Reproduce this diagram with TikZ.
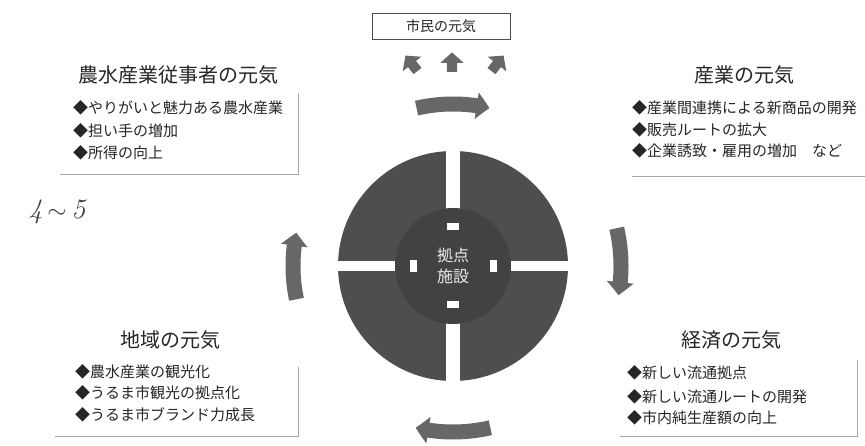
\documentclass[tikz,border=0pt]{standalone}
\usepackage{fontspec}
\newfontfamily\jp{Noto Sans CJK JP}
\usetikzlibrary{arrows.meta,bending}
\definecolor{circdark}{HTML}{4E4E4E}
\definecolor{innerdark}{HTML}{424242}
\definecolor{arrowgray}{HTML}{676767}
\definecolor{txt}{HTML}{262626}
\definecolor{framegray}{HTML}{A8A8A8}
\begin{document}
\begin{tikzpicture}[x=1pt,y=1pt,
  title/.style={font=\jp\fontsize{20}{24}\selectfont, text=txt, inner sep=0pt},
  item/.style={font=\jp\fontsize{15}{18}\selectfont, text=txt, anchor=west, inner sep=0pt},
  frameline/.style={draw=framegray, line width=1pt},
  cyc/.style={draw=arrowgray, line width=15pt, -{Triangle[width=26pt,length=13pt,bend]}},
  uparrow/.style={fill=arrowgray},
]
\useasboundingbox (0,0) rectangle (865,446);
\fill[white] (0,0) rectangle (865,446);

% citizens box
\node[draw=black!70, line width=0.8pt, minimum width=138pt, minimum height=26pt,
      font=\jp\fontsize{14}{16}\selectfont, text=txt] (citizen) at (441,420) {市民の元気};

% three small arrows
\foreach \px/\py/\ang in {412/382/38, 452/383/0, 497/382/-38}{
  \begin{scope}[shift={(\px,\py)}, rotate=\ang, scale=1.12]
    \fill[uparrow] (-4.5,-8) -- (-4.5,0) -- (-10.5,0) -- (0,9.5) -- (10.5,0) -- (4.5,0) -- (4.5,-8) -- cycle;
  \end{scope}
}

% central disc
\coordinate (C) at (453,180);
\fill[circdark] (C) circle[radius=115pt];
\fill[white] (446,63) rectangle (460,297);
\fill[white] (336,175) rectangle (570,185);
\fill[innerdark] (C) circle[radius=58pt];
\fill[white] ([shift={(-6,35.5)}]C) rectangle ([shift={(6,42.5)}]C);
\fill[white] ([shift={(-6,-35.5)}]C) rectangle ([shift={(6,-42.5)}]C);
\fill[white] ([shift={(-36.5,-6)}]C) rectangle ([shift={(-43.5,6)}]C);
\fill[white] ([shift={(36.5,-6)}]C) rectangle ([shift={(43.5,6)}]C);
\node[font=\jp\fontsize{16}{21}\selectfont, text=white!92!black, align=center, inner sep=0pt] (hub) at (453,180) {拠点\\施設};

% cycle arrows (clockwise)
\draw[cyc] ([shift={(103:162)}]C) arc[start angle=103, end angle=77, radius=162pt];
\draw[cyc] ([shift={(13:168)}]C) arc[start angle=13, end angle=-10, radius=168pt];
\draw[cyc] ([shift={(283:166)}]C) arc[start angle=283, end angle=257, radius=166pt];
\draw[cyc] ([shift={(192:160)}]C) arc[start angle=192, end angle=168, radius=160pt];

% top-left
\node[title] (tlt) at (178,371) {農水産業従事者の元気};
\node[item] (tl1) at (73,338) {◆やりがいと魅力ある農水産業};
\node[item] (tl2) at (73,315) {◆担い手の増加};
\node[item] (tl3) at (73,293) {◆所得の向上};
\draw[frameline] (298,353) -- (298,271) -- (60,271);

% top-right
\node[title] (trt) at (744,371) {産業の元気};
\node[item] (tr1) at (632,338) {◆産業間連携による新商品の開発};
\node[item] (tr2) at (632,316) {◆販売ルートの拡大};
\node[item] (tr3) at (632,295) {◆企業誘致・雇用の増加\hspace{1em}など};
\draw[frameline] (632,269) -- (865,269);

% bottom-left
\node[title] (blt) at (170,106) {地域の元気};
\node[item] (bl1) at (75,74) {◆農水産業の観光化};
\node[item] (bl2) at (75,53) {◆うるま市観光の拠点化};
\node[item] (bl3) at (75,31) {◆うるま市ブランド力成長};
\draw[frameline] (298,79) -- (298,9) -- (55,9);

% bottom-right
\node[title] (brt) at (731,106) {経済の元気};
\node[item] (br1) at (627,73) {◆新しい流通拠点};
\node[item] (br2) at (627,49) {◆新しい流通ルートの開発};
\node[item] (br3) at (627,28) {◆市内純生産額の向上};
\draw[frameline] (857,86) -- (857,9) -- (620,9);

% handwritten note
\node[font=\fontsize{28}{30}\selectfont, text=black!75] (note) at (57,234) {\itshape 4\,$\sim$\,5};
\end{tikzpicture}
\end{document}
